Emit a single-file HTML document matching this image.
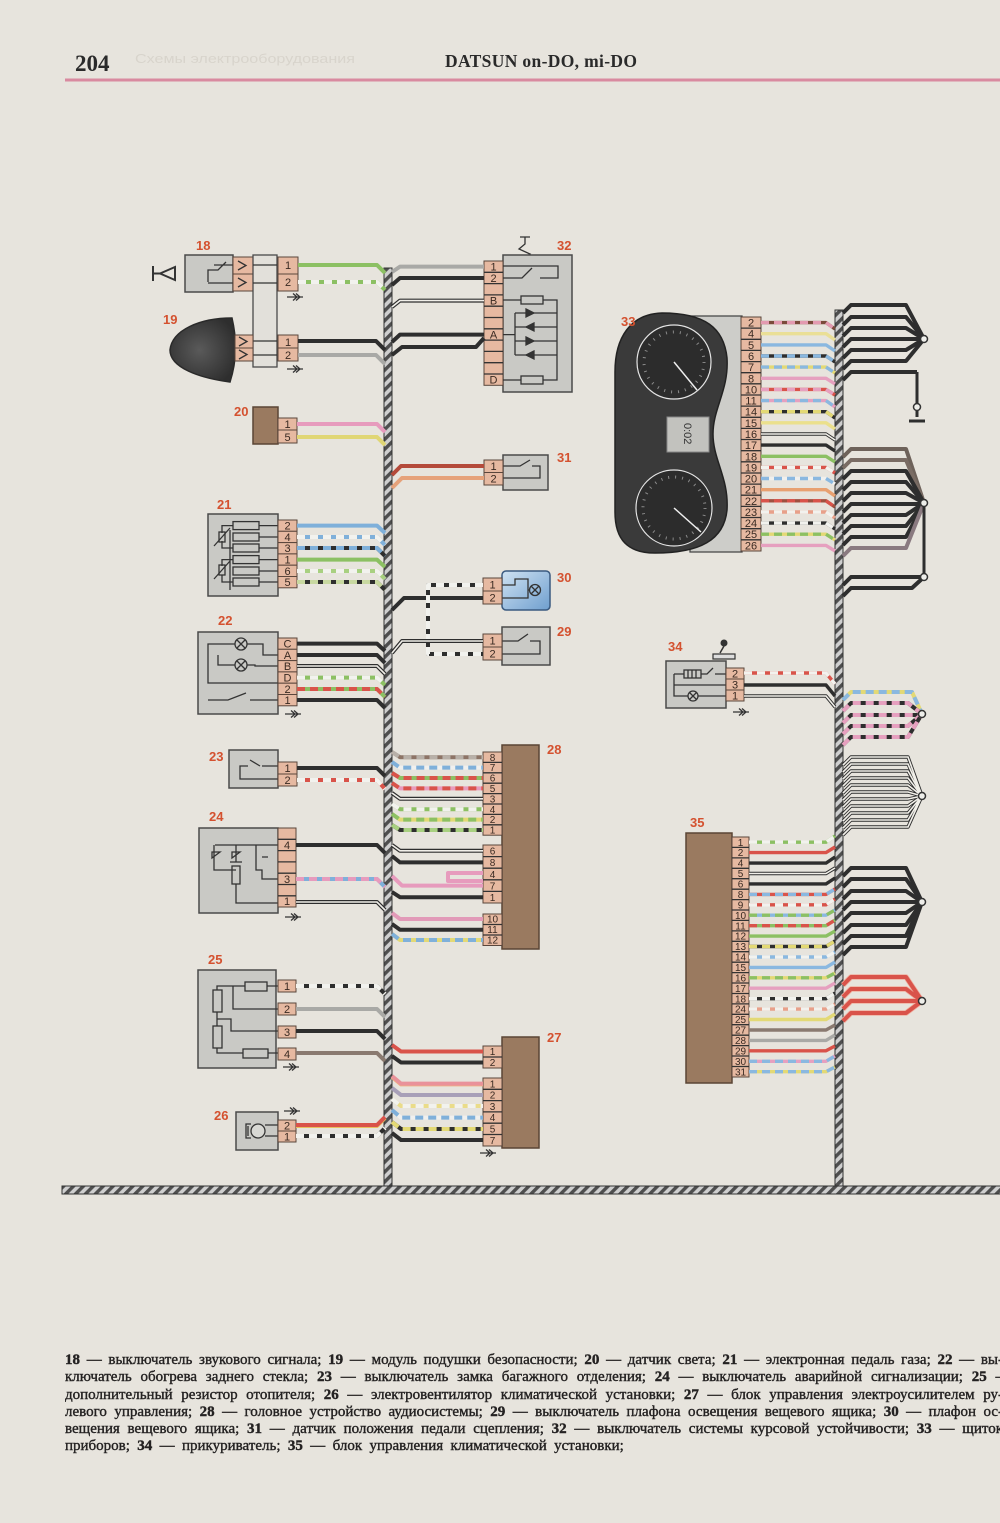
<!DOCTYPE html>
<html><head><meta charset="utf-8">
<style>
html,body{margin:0;padding:0}
body{width:1000px;height:1523px;overflow:hidden;background:#e7e4dd;position:relative}
svg{position:absolute;left:0;top:0}
.cap{position:absolute;left:65px;top:1352px;width:938px;font-family:"Liberation Serif","Noto Serif CJK SC",serif;font-size:15px;color:#242222;-webkit-text-stroke:0.4px #242222}
.cap div{height:17.3px;line-height:17.3px;overflow:hidden;text-align:justify;text-align-last:justify}
.cap div.l{text-align-last:left;word-spacing:3.6px}
.cap b{font-weight:bold}
</style></head><body>
<svg width="1000" height="1523" viewBox="0 0 1000 1523" xmlns="http://www.w3.org/2000/svg">
<defs>
<pattern id="hat" patternUnits="userSpaceOnUse" width="7" height="7" patternTransform="rotate(45)"><rect width="7" height="7" fill="#cfcfcf"/><rect width="3.4" height="7" fill="#4e4e4e"/></pattern>
<g id="ga"><path d="M0 0H16 M6 -3.5L10 0L6 3.5 M9 -3.5L13 0L9 3.5" stroke="#333" stroke-width="1.3" fill="none"/></g>
<radialGradient id="dome" cx="0.45" cy="0.5" r="0.6"><stop offset="0" stop-color="#5a5a5a"/><stop offset="1" stop-color="#2e2e2e"/></radialGradient>
<linearGradient id="blu" x1="0" y1="0" x2="1" y2="1"><stop offset="0" stop-color="#cfe2f2"/><stop offset="1" stop-color="#6f9fcf"/></linearGradient>
</defs>
<style>
.w{fill:none;stroke-width:4;stroke-linejoin:round}
.t{fill:none;stroke-width:3.4;stroke-linejoin:round}
.d{stroke-dasharray:8 5}
.bk{stroke:#2e2e2e}
.in{fill:none;stroke:#f1efe9;stroke-width:1.6}
.lb{font-family:"Liberation Sans",sans-serif;font-weight:bold;font-size:13px;fill:#d4512f}
.pn{font-family:"Liberation Sans",sans-serif;font-size:11px;fill:#3a2a22;text-anchor:middle}
.pn2{font-family:"Liberation Sans",sans-serif;font-size:10px;fill:#3a2a22;text-anchor:middle}
.box{fill:#c9c9c5;stroke:#4a4a4a;stroke-width:1.5}
.pin{fill:#e6b9a1;stroke:#5a463c;stroke-width:1}
.brn{fill:#9a7a60;stroke:#5a4535;stroke-width:1.5}
.ln{fill:none;stroke:#333;stroke-width:1.3}
.nd{fill:#eeeeea;stroke:#333;stroke-width:1.5}
</style>

<!-- header -->
<text x="75" y="71" font-family="Liberation Serif" font-weight="bold" font-size="23" fill="#2a2a2a">204</text>
<text x="135" y="63" font-family="Liberation Sans" font-size="13" fill="#d8d4cc" textLength="220" lengthAdjust="spacingAndGlyphs">Схемы электрооборудования</text>
<text x="445" y="67" font-family="Liberation Serif" font-weight="bold" font-size="17.5" fill="#2a2a2a" textLength="192">DATSUN on-DO, mi-DO</text>
<rect x="65" y="78.5" width="935" height="3" fill="#d98aa0"/>

<!-- buses -->
<rect x="384" y="268" width="8" height="925" fill="url(#hat)" stroke="#333" stroke-width="1"/>
<rect x="835" y="310" width="8" height="883" fill="url(#hat)" stroke="#333" stroke-width="1"/>
<rect x="62" y="1186" width="940" height="8" fill="url(#hat)" stroke="#333" stroke-width="1"/>

<!-- ===== 18 ===== -->
<text class="lb" x="196" y="250">18</text>
<path d="M153 266V281 M153 273.5H160 L175 267V280L160 273.5" fill="none" stroke="#333" stroke-width="2"/>
<rect class="box" x="185" y="255" width="48" height="37"/>
<path class="ln" d="M233 265H222L214 265 M208 282V270H218L226 262 M233 283H208"/>
<rect class="pin" x="233" y="257" width="20" height="17"/><rect class="pin" x="233" y="274" width="20" height="17"/>
<path class="ln" d="M238 261L246 265.5L238 270 M238 278L246 282.5L238 287"/>
<rect x="253" y="255" width="24" height="112" fill="#e2e0da" stroke="#4a4a4a" stroke-width="1.3"/>
<path class="ln" d="M253 265H277 M253 283H277 M253 341H277 M253 355H277"/>
<rect class="pin" x="278" y="257" width="20" height="17"/><rect class="pin" x="278" y="274" width="20" height="17"/>
<text class="pn" x="288" y="269">1</text><text class="pn" x="288" y="286">2</text>
<use href="#ga" x="287" y="297"/>
<!-- ===== 19 ===== -->
<text class="lb" x="163" y="324">19</text>
<path d="M232 318 C200 318 172 330 170 350 C170 368 200 378 230 382 C237 360 237 340 232 318 Z" fill="url(#dome)" stroke="#2a2a2a" stroke-width="1.5"/>
<rect class="pin" x="235" y="335" width="18" height="13"/><rect class="pin" x="235" y="348" width="18" height="13"/>
<path class="ln" d="M239 337L247 341.5L239 346 M239 350L247 354.5L239 359"/>
<rect class="pin" x="278" y="335" width="20" height="13"/><rect class="pin" x="278" y="348" width="20" height="13"/>
<text class="pn" x="288" y="346">1</text><text class="pn" x="288" y="359">2</text>
<use href="#ga" x="287" y="369"/>
<!-- ===== 20 ===== -->
<text class="lb" x="234" y="416">20</text>
<rect class="brn" x="253" y="407" width="25" height="37"/>
<rect class="pin" x="278" y="418" width="19" height="12"/><rect class="pin" x="278" y="430" width="19" height="13"/>
<text class="pn" x="287.5" y="428">1</text><text class="pn" x="287.5" y="441">5</text>

<!-- ===== 21 ===== -->
<text class="lb" x="217" y="509">21</text>
<rect class="box" x="208" y="514" width="70" height="82"/>
<g class="ln">
<rect x="233" y="521.6" width="26" height="8"/><rect x="233" y="533" width="26" height="8"/><rect x="233" y="544" width="26" height="8"/>
<rect x="233" y="555.6" width="26" height="8"/><rect x="233" y="567" width="26" height="8"/><rect x="233" y="578" width="26" height="8"/>
<path d="M259 525.6H278 M259 537H278 M259 548H278 M259 559.6H278 M259 571H278 M259 582H278 M233 525.6H222V533 M233 548H222V541 M233 559.6H222V566 M233 582H222V575 M214 546L230 528 M214 579L230 561 M230 530V590"/>
<rect x="219" y="532" width="6" height="10"/><rect x="219" y="565" width="6" height="10"/>
</g>
<g>
<rect class="pin" x="278" y="520" width="19" height="11.3"/><rect class="pin" x="278" y="531.3" width="19" height="11.3"/><rect class="pin" x="278" y="542.6" width="19" height="11.3"/><rect class="pin" x="278" y="553.9" width="19" height="11.3"/><rect class="pin" x="278" y="565.2" width="19" height="11.3"/><rect class="pin" x="278" y="576.5" width="19" height="11.3"/>
</g>
<text class="pn" x="287.5" y="529.6">2</text><text class="pn" x="287.5" y="541">4</text><text class="pn" x="287.5" y="552">3</text><text class="pn" x="287.5" y="563.6">1</text><text class="pn" x="287.5" y="575">6</text><text class="pn" x="287.5" y="586">5</text>

<!-- ===== 22 ===== -->
<text class="lb" x="218" y="625">22</text>
<rect class="box" x="198" y="632" width="80" height="82"/>
<g class="ln">
<circle cx="241" cy="644" r="6"/><path d="M237 640L245 648M245 640L237 648"/>
<circle cx="241" cy="665" r="6"/><path d="M237 661L245 669M245 661L237 669"/>
<path d="M235 644H208V683H278 M247 644H263V655H278 M235 665H218V655 M247 665H255V666H278 M208 700H228L246 693 M250 700H278"/>
</g>
<rect class="pin" x="278" y="638" width="19" height="11.3"/><rect class="pin" x="278" y="649.3" width="19" height="11.3"/><rect class="pin" x="278" y="660.6" width="19" height="11.3"/><rect class="pin" x="278" y="671.9" width="19" height="11.3"/><rect class="pin" x="278" y="683.2" width="19" height="11.3"/><rect class="pin" x="278" y="694.5" width="19" height="11.3"/>
<text class="pn" x="287.5" y="647.6">C</text><text class="pn" x="287.5" y="659">A</text><text class="pn" x="287.5" y="670">B</text><text class="pn" x="287.5" y="681.6">D</text><text class="pn" x="287.5" y="693">2</text><text class="pn" x="287.5" y="704">1</text>
<use href="#ga" x="285" y="714"/>

<!-- ===== 23 ===== -->
<text class="lb" x="209" y="761">23</text>
<rect class="box" x="229" y="750" width="49" height="38"/>
<path class="ln" d="M278 766H262 M260 766L250 760 M248 766H240V779H278"/>
<rect class="pin" x="278" y="762" width="19" height="12"/><rect class="pin" x="278" y="774" width="19" height="12"/>
<text class="pn" x="287.5" y="772">1</text><text class="pn" x="287.5" y="784">2</text>

<!-- ===== 24 ===== -->
<text class="lb" x="209" y="821">24</text>
<rect class="box" x="199" y="828" width="79" height="85"/>
<g class="ln">
<path d="M215 845H278 M214 845V870H236 M236 845V862 M212 858L220 852L212 852Z M232 858L240 852L232 852Z M230 862H242 M236 884V903H278 M256 845V870H262V879H278 M262 857H268"/>
<rect x="232" y="866" width="8" height="18"/>
</g>
<rect class="pin" x="278" y="828" width="18" height="79"/>
<path class="ln" d="M278 839.3H296 M278 850.6H296 M278 861.9H296 M278 873.2H296 M278 884.5H296 M278 895.8H296"/>
<text class="pn" x="287" y="849">4</text><text class="pn" x="287" y="883">3</text><text class="pn" x="287" y="905">1</text>
<use href="#ga" x="285" y="917"/>

<!-- ===== 25 ===== -->
<text class="lb" x="208" y="964">25</text>
<rect class="box" x="198" y="970" width="78" height="98"/>
<g class="ln">
<rect x="245" y="982" width="22" height="9"/><rect x="213" y="990" width="9" height="22"/><rect x="213" y="1026" width="9" height="22"/><rect x="243" y="1049" width="25" height="9"/>
<path d="M267 986H278 M245 986H217V990 M217 1012V1026 M217 1048V1053H243 M268 1053H278 M233 986V1009H278 M217 1019H231V1031H278"/>
</g>
<rect class="pin" x="278" y="980" width="18" height="12"/><rect class="pin" x="278" y="1003" width="18" height="12"/><rect class="pin" x="278" y="1026" width="18" height="12"/><rect class="pin" x="278" y="1048" width="18" height="12"/>
<text class="pn" x="287" y="990">1</text><text class="pn" x="287" y="1013">2</text><text class="pn" x="287" y="1036">3</text><text class="pn" x="287" y="1058">4</text>
<use href="#ga" x="283" y="1067"/>

<!-- ===== 26 ===== -->
<text class="lb" x="214" y="1120">26</text>
<rect class="box" x="236" y="1112" width="42" height="38"/>
<g class="ln"><circle cx="258" cy="1131" r="7" fill="#d8d8d4"/><path d="M248 1126V1136 M251 1124H246V1138H251 M265 1125H278 M265 1136H278"/></g>
<rect class="pin" x="278" y="1120" width="18" height="11"/><rect class="pin" x="278" y="1131" width="18" height="11"/>
<text class="pn" x="287" y="1129.5">2</text><text class="pn" x="287" y="1140.5">1</text>
<use href="#ga" x="284" y="1111"/>

<!-- ===== left wires ===== -->
<path class="w" stroke="#8cc063" d="M298 265H377L385 273"/>
<path class="w" stroke="#8cc063" d="M298 282H377L385 290"/><path class="w d" stroke="#f2f2ee" d="M298 282H377L385 290"/>
<path class="w bk" d="M298 341H376L385 350"/>
<path class="w" stroke="#a9a9a6" d="M298 355H376L385 364"/>
<path class="w" stroke="#e79bbd" d="M297 424H377L385 432"/>
<path class="w" stroke="#e0d675" d="M297 437H377L385 445"/>
<path class="w" stroke="#7fb0da" d="M297 525.6H377L385 533"/>
<path class="w" stroke="#7fb0da" d="M297 537H377L385 545"/><path class="w d" stroke="#f2f2ee" d="M297 537H377L385 545"/>
<path class="w bk" d="M297 548H377L385 556"/><path class="w d" stroke="#7fb0da" d="M297 548H377L385 556"/>
<path class="w" stroke="#8cc063" d="M297 559.6H377L385 567"/>
<path class="w" stroke="#a8d080" d="M297 571H377L385 579"/><path class="w d" stroke="#f2f2ee" d="M297 571H377L385 579"/>
<path class="w bk" d="M297 582H377L385 590"/><path class="w d" stroke="#c8d8a0" d="M297 582H377L385 590"/>
<path class="w bk" d="M297 643.6H377L385 651"/>
<path class="w bk" d="M297 655H377L385 663"/>
<path class="w bk" d="M297 666H377L385 674"/><path class="in" d="M297 666H377L385 674"/>
<path class="w" stroke="#8cc063" d="M297 677.6H377L385 685"/><path class="w d" stroke="#f2f2ee" d="M297 677.6H377L385 685"/>
<path class="w" stroke="#8cc063" d="M297 689H377L385 697"/><path class="w d" stroke="#d9534a" d="M297 689H377L385 697"/>
<path class="w bk" d="M297 700H377L385 708"/>
<path class="w bk" d="M297 768H377L385 776"/>
<path class="w" stroke="#d9534a" d="M297 780H377L385 789"/><path class="w d" stroke="#f2f2ee" d="M297 780H377L385 789"/>
<path class="w bk" d="M296 845H377L385 853"/>
<path class="w" stroke="#7fb0da" d="M296 879H377L385 887"/><path class="w d" stroke="#e79bbd" d="M296 879H377L385 887"/>
<path class="w bk" d="M296 902H377L385 910"/><path class="in" d="M296 902H377L385 910"/>
<path class="w bk" d="M296 986H377L385 994"/><path class="w d" stroke="#f2f2ee" d="M296 986H377L385 994"/>
<path class="w" stroke="#a9a9a6" d="M296 1009H377L385 1017"/>
<path class="w bk" d="M296 1031H377L385 1039"/>
<path class="w" stroke="#8a7a70" d="M296 1053H377L385 1061"/>
<path class="w" stroke="#e8c060" stroke-width="5.5" fill="none" d="M296 1126H377L385 1118"/><path class="w" stroke="#d9534a" d="M296 1125H377L385 1117"/>
<path class="w bk" d="M296 1136H377L385 1128"/><path class="w d" stroke="#f2f2ee" d="M296 1136H377L385 1128"/>

<!-- ===== 32 ===== -->
<text class="lb" x="557" y="250">32</text>
<path class="ln" d="M520 237H530 M525 237V244L519 249L530 254L523 259V262"/>
<rect class="box" x="503" y="255" width="69" height="137"/>
<rect class="pin" x="484" y="261" width="19" height="124.3"/>
<path class="ln" d="M484 272.3H503 M484 283.6H503 M484 294.9H503 M484 306.2H503 M484 317.5H503 M484 328.8H503 M484 340.1H503 M484 351.4H503 M484 362.7H503 M484 374H503"/>
<text class="pn" x="493.5" y="270.6">1</text><text class="pn" x="493.5" y="282">2</text><text class="pn" x="493.5" y="304.6">B</text><text class="pn" x="493.5" y="338.5">A</text><text class="pn" x="493.5" y="383.7">D</text>
<g class="ln">
<path d="M503 266H558V278H540 M503 278H522 L532 268"/>
<rect x="521" y="296" width="22" height="8"/><rect x="521" y="376" width="22" height="8"/>
<path d="M503 300H521 M543 300H557V380H543 M503 380H521 M503 334.6H515 M515 313V355 M515 313H557 M515 327H557 M515 341H557 M515 355H557"/>
<path d="M526 309L534 313L526 317Z M534 323L526 327L534 331Z M526 337L534 341L526 345Z M534 351L526 355L534 359Z" fill="#333"/>
</g>
<!-- ===== 31 ===== -->
<text class="lb" x="557" y="462">31</text>
<rect class="box" x="503" y="455" width="45" height="35"/>
<path class="ln" d="M503 466H520 L530 460 M532 466H540V478H503"/>
<rect class="pin" x="484" y="460" width="19" height="12.5"/><rect class="pin" x="484" y="472.5" width="19" height="12.5"/>
<text class="pn" x="493.5" y="470">1</text><text class="pn" x="493.5" y="482.5">2</text>
<!-- ===== 30 ===== -->
<text class="lb" x="557" y="582">30</text>
<rect x="502" y="571" width="48" height="39" rx="4" fill="url(#blu)" stroke="#3a5a80" stroke-width="1.5"/>
<g class="ln"><circle cx="535" cy="590" r="5.5"/><path d="M531 586L539 594M539 586L531 594 M502 585H515V579H528V590H529.5 M502 598H528V590"/></g>
<rect class="pin" x="483" y="578" width="19" height="13"/><rect class="pin" x="483" y="591" width="19" height="13"/>
<text class="pn" x="492.5" y="588.5">1</text><text class="pn" x="492.5" y="601.5">2</text>
<!-- ===== 29 ===== -->
<text class="lb" x="557" y="636">29</text>
<rect class="box" x="502" y="627" width="48" height="38"/>
<path class="ln" d="M502 641H518L528 634 M530 641H540V654H502"/>
<rect class="pin" x="483" y="634" width="19" height="13"/><rect class="pin" x="483" y="647" width="19" height="13"/>
<text class="pn" x="492.5" y="644.5">1</text><text class="pn" x="492.5" y="657.5">2</text>
<!-- ===== 28 ===== -->
<text class="lb" x="547" y="754">28</text>
<rect class="brn" x="502" y="745" width="37" height="204"/>
<rect class="pin" x="483" y="752" width="19" height="83.2"/>
<path class="ln" d="M483 762.4H502 M483 772.8H502 M483 783.2H502 M483 793.6H502 M483 804H502 M483 814.4H502 M483 824.8H502"/>
<text class="pn2" x="492.5" y="760.8">8</text><text class="pn2" x="492.5" y="771.2">7</text><text class="pn2" x="492.5" y="781.6">6</text><text class="pn2" x="492.5" y="792">5</text><text class="pn2" x="492.5" y="802.4">3</text><text class="pn2" x="492.5" y="812.8">4</text><text class="pn2" x="492.5" y="823.2">2</text><text class="pn2" x="492.5" y="833.6">1</text>
<rect class="pin" x="483" y="845" width="19" height="58"/>
<path class="ln" d="M483 856.6H502 M483 868.2H502 M483 879.8H502 M483 891.4H502"/>
<text class="pn2" x="492.5" y="854.6">6</text><text class="pn2" x="492.5" y="866.2">8</text><text class="pn2" x="492.5" y="877.8">4</text><text class="pn2" x="492.5" y="889.4">7</text><text class="pn2" x="492.5" y="901">1</text>
<rect class="pin" x="483" y="914" width="19" height="31.5"/>
<path class="ln" d="M483 924.5H502 M483 935H502"/>
<text class="pn2" x="492.5" y="922.6">10</text><text class="pn2" x="492.5" y="933.2">11</text><text class="pn2" x="492.5" y="943.6">12</text>
<!-- ===== 27 ===== -->
<text class="lb" x="547" y="1042">27</text>
<rect class="brn" x="502" y="1037" width="37" height="111"/>
<rect class="pin" x="483" y="1046" width="19" height="22"/>
<path class="ln" d="M483 1057H502"/>
<text class="pn2" x="492.5" y="1055">1</text><text class="pn2" x="492.5" y="1066">2</text>
<rect class="pin" x="483" y="1078" width="19" height="68"/>
<path class="ln" d="M483 1089.3H502 M483 1100.6H502 M483 1111.9H502 M483 1123.2H502 M483 1134.5H502"/>
<text class="pn2" x="492.5" y="1087.3">1</text><text class="pn2" x="492.5" y="1098.6">2</text><text class="pn2" x="492.5" y="1109.9">3</text><text class="pn2" x="492.5" y="1121.2">4</text><text class="pn2" x="492.5" y="1132.5">5</text><text class="pn2" x="492.5" y="1143.8">7</text>
<use href="#ga" x="480" y="1153"/>

<!-- ===== middle wires ===== -->
<path class="w" stroke="#a9a9a6" d="M392 272L400 266.6H484"/>
<path class="w bk" d="M392 285L400 278H484"/>
<path class="w bk" d="M392 307L400 300.6H484"/><path class="in" d="M392 307L400 300.6H484"/>
<path class="w bk" d="M392 342L400 334.6H484"/>
<path class="w bk" d="M392 355L402 347H476L484 338"/>
<path class="w" stroke="#b44a3a" d="M392 475L401 466H484"/>
<path class="w" stroke="#e6a27a" d="M392 488L402 478H484"/>
<path class="w bk" d="M392 610L404 598H483"/>
<path class="w bk" d="M483 585H428V654H483"/><path class="w d" stroke="#f2f2ee" d="M483 585H428V654H483"/>
<path class="w bk" d="M392 653L402 641H483"/><path class="in" d="M392 653L402 641H483"/>
<path class="w" stroke="#8d7466" d="M392 752L400 757.2H483"/><path class="w d" stroke="#b8b0a8" d="M392 752L400 757.2H483"/>
<path class="w" stroke="#f0f0ee" d="M392 762L400 767.6H483"/><path class="w d" stroke="#7fb0da" d="M392 762L400 767.6H483"/>
<path class="w" stroke="#8cc063" d="M392 773L400 778H483"/><path class="w d" stroke="#d9534a" d="M392 773L400 778H483"/>
<path class="w" stroke="#e79bbd" d="M392 783L400 788.4H483"/><path class="w d" stroke="#d9534a" d="M392 783L400 788.4H483"/>
<path class="w bk" d="M392 793L400 798.8H483"/><path class="in" d="M392 793L400 798.8H483"/>
<path class="w" stroke="#8cc063" d="M392 804L400 809.2H483"/><path class="w d" stroke="#f2f2ee" d="M392 804L400 809.2H483"/>
<path class="w" stroke="#e3d975" d="M392 814L400 819.6H483"/><path class="w d" stroke="#8cc063" d="M392 814L400 819.6H483"/>
<path class="w bk" d="M392 825L400 830H483"/><path class="w d" stroke="#a8d080" d="M392 825L400 830H483"/>
<path class="w bk" d="M392 845L400 850.8H483"/><path class="in" d="M392 845L400 850.8H483"/>
<path class="w bk" d="M392 856L400 862.4H483"/>
<path class="w" stroke="#e79bbd" stroke-width="3" fill="none" d="M483 873H448V881H483"/>
<path class="w" stroke="#e79bbd" d="M392 876L402 885.6H483"/>
<path class="w bk" d="M392 892L400 897.2H483"/>
<path class="w" stroke="#e29ab8" d="M392 913L400 919H483"/>
<path class="w bk" d="M392 924L400 929.7H483"/>
<path class="w" stroke="#e3d975" d="M392 934L400 940H483"/><path class="w d" stroke="#7fb0da" d="M392 934L400 940H483"/>
<path class="w" stroke="#d9534a" d="M392 1045L401 1051.5H483"/>
<path class="w bk" d="M392 1056L401 1062.5H483"/>
<path class="w" stroke="#f0b080" stroke-width="5" fill="none" d="M392 1077L401 1084.4H483"/><path class="w" stroke="#e9929a" d="M392 1076L401 1083.6H483"/>
<path class="w" stroke="#a8a0b8" d="M392 1088L401 1095H483"/>
<path class="w" stroke="#eadc8a" d="M392 1099L401 1106H483"/><path class="w d" stroke="#f2f2ee" d="M392 1099L401 1106H483"/>
<path class="w" stroke="#f0f0ee" d="M392 1110L401 1117.6H483"/><path class="w d" stroke="#7fb0da" d="M392 1110L401 1117.6H483"/>
<path class="w bk" d="M392 1122L401 1129H483"/><path class="w d" stroke="#e3d975" d="M392 1122L401 1129H483"/>
<path class="w bk" d="M392 1133L401 1140H483"/>

<!-- ===== 33 ===== -->
<rect x="690" y="316" width="52" height="236" fill="#cdcdc9" stroke="#4a4a4a" stroke-width="1.3"/>
<path d="M662 313 C705 313 724 328 727 358 C729 390 713 408 713 434 C713 460 729 478 727 510 C724 540 700 553 655 553 C628 553 615 540 615 512 L615 372 C615 338 630 314 662 313 Z" fill="#3a3a3a" stroke="#222" stroke-width="1.5"/>
<text class="lb" x="621" y="326">33</text>
<circle cx="674" cy="362" r="37" fill="#2c2c2c" stroke="#e4e4e4" stroke-width="1.2"/>
<circle cx="674" cy="362" r="30" fill="none" stroke="#8a8a8a" stroke-width="3" stroke-dasharray="1 6"/>
<line x1="674" y1="362" x2="697" y2="390" stroke="#eee" stroke-width="1.5"/>
<circle cx="674" cy="508" r="38" fill="#2c2c2c" stroke="#e4e4e4" stroke-width="1.2"/>
<circle cx="674" cy="508" r="31" fill="none" stroke="#8a8a8a" stroke-width="3" stroke-dasharray="1 6"/>
<line x1="674" y1="508" x2="701" y2="532" stroke="#eee" stroke-width="1.5"/>
<rect x="667" y="417" width="42" height="35" fill="#c2c2be" stroke="#888" stroke-width="1"/>
<text x="0" y="0" transform="translate(684,423) rotate(90)" font-family="Liberation Sans" font-size="11" fill="#333">0:02</text>
<rect class="pin" x="741" y="317" width="20" height="234"/>
<path class="ln" d="M741 328.1H761 M741 339.3H761 M741 350.4H761 M741 361.6H761 M741 372.7H761 M741 383.8H761 M741 395H761 M741 406.1H761 M741 417.3H761 M741 428.4H761 M741 439.5H761 M741 450.7H761 M741 461.8H761 M741 473H761 M741 484.1H761 M741 495.2H761 M741 506.4H761 M741 517.5H761 M741 528.7H761 M741 539.8H761"/>
<g class="pn">
<text x="751" y="326.6">2</text><text x="751" y="337.7">4</text><text x="751" y="348.9">5</text><text x="751" y="360">6</text><text x="751" y="371.1">7</text><text x="751" y="382.3">8</text><text x="751" y="393.4">10</text><text x="751" y="404.6">11</text><text x="751" y="415.7">14</text><text x="751" y="426.8">15</text><text x="751" y="438">16</text><text x="751" y="449.1">17</text><text x="751" y="460.3">18</text><text x="751" y="471.4">19</text><text x="751" y="482.5">20</text><text x="751" y="493.7">21</text><text x="751" y="504.8">22</text><text x="751" y="516">23</text><text x="751" y="527.1">24</text><text x="751" y="538.2">25</text><text x="751" y="549.4">26</text>
</g>
<!-- 33 wires -->
<path class="t" stroke="#7a4a3a" d="M761 322.6H826L835 329"/><path class="t d" stroke="#e39ab0" d="M761 322.6H826L835 329"/>
<path class="t" stroke="#eadf96" d="M761 333.7H826L835 340"/>
<path class="t" stroke="#8ab8e0" d="M761 344.9H826L835 351"/>
<path class="t bk" d="M761 356H826L835 362"/><path class="t d" stroke="#8ab8e0" d="M761 356H826L835 362"/>
<path class="t" stroke="#e3d975" d="M761 367.1H826L835 373"/><path class="t d" stroke="#8ab8e0" d="M761 367.1H826L835 373"/>
<path class="t" stroke="#e6a0bf" d="M761 378.3H826L835 384"/>
<path class="t" stroke="#d9534a" d="M761 389.4H826L835 395"/><path class="t d" stroke="#e6a0bf" d="M761 389.4H826L835 395"/>
<path class="t" stroke="#e6a0bf" d="M761 400.6H826L835 407"/><path class="t d" stroke="#8ab8e0" d="M761 400.6H826L835 407"/>
<path class="t bk" d="M761 411.7H826L835 418"/><path class="t d" stroke="#e3d975" d="M761 411.7H826L835 418"/>
<path class="t" stroke="#ebe08c" d="M761 422.8H826L835 429"/>
<path class="t bk" d="M761 434H826L835 440"/><path class="in" d="M761 434H826L835 440"/>
<path class="t bk" d="M761 445.1H826L835 451"/>
<path class="t" stroke="#8cc063" d="M761 456.3H826L835 462"/>
<path class="t" stroke="#d9534a" d="M761 467.4H826L835 473"/><path class="t d" stroke="#f2f2ee" d="M761 467.4H826L835 473"/>
<path class="t" stroke="#f0f0ee" d="M761 478.5H826L835 484"/><path class="t d" stroke="#8ab8e0" d="M761 478.5H826L835 484"/>
<path class="t" stroke="#e8a070" d="M761 489.7H826L835 496"/>
<path class="t" stroke="#a0503f" d="M761 500.8H826L835 507"/><path class="t d" stroke="#d9534a" d="M761 500.8H826L835 507"/>
<path class="t" stroke="#e8a08a" d="M761 512H826L835 518"/><path class="t d" stroke="#f2f2ee" d="M761 512H826L835 518"/>
<path class="t bk" d="M761 523.1H826L835 529"/><path class="t d" stroke="#f2f2ee" d="M761 523.1H826L835 529"/>
<path class="t" stroke="#e3d975" d="M761 534.2H826L835 540"/><path class="t d" stroke="#8cc063" d="M761 534.2H826L835 540"/>
<path class="t" stroke="#e6a0bf" d="M761 545.4H826L835 551"/>

<!-- ===== 34 ===== -->
<text class="lb" x="668" y="651">34</text>
<circle cx="724" cy="643" r="3.5" fill="#333"/><path d="M724 646L720 653" stroke="#333" stroke-width="1.5"/>
<rect x="713" y="654" width="22" height="5" fill="#ddd" stroke="#333" stroke-width="1.2"/>
<rect class="box" x="666" y="661" width="60" height="47"/>
<g class="ln"><rect x="684" y="670" width="17" height="8"/><path d="M688 670V678M692 670V678M696 670V678 M674 674H684 M701 674H707L713 668 M715 674H726 M674 674V696H688 M698 696H726 M674 685H726"/><circle cx="693" cy="696" r="5"/><path d="M689.5 692.5L696.5 699.5M696.5 692.5L689.5 699.5"/></g>
<rect class="pin" x="726" y="668" width="18" height="11"/><rect class="pin" x="726" y="679" width="18" height="11"/><rect class="pin" x="726" y="690" width="18" height="11"/>
<text class="pn" x="735" y="677.5">2</text><text class="pn" x="735" y="688.5">3</text><text class="pn" x="735" y="699.5">1</text>
<use href="#ga" x="733" y="712"/>
<path class="t" stroke="#d9534a" d="M744 673H826L835 684"/><path class="t d" stroke="#f2f2ee" d="M744 673H826L835 684"/>
<path class="t bk" d="M744 685H826L835 696"/>
<path class="t bk" d="M744 696H826L835 707"/><path class="in" d="M744 696H826L835 707"/>

<!-- ===== 35 ===== -->
<text class="lb" x="690" y="827">35</text>
<rect class="brn" x="686" y="833" width="46" height="250"/>
<rect class="pin" x="732" y="837" width="17" height="240"/>
<path class="ln" d="M732 847.4H749 M732 857.9H749 M732 868.3H749 M732 878.7H749 M732 889.2H749 M732 899.6H749 M732 910H749 M732 920.4H749 M732 930.9H749 M732 941.3H749 M732 951.7H749 M732 962.2H749 M732 972.6H749 M732 983H749 M732 993.5H749 M732 1003.9H749 M732 1014.3H749 M732 1024.7H749 M732 1035.2H749 M732 1045.6H749 M732 1056H749 M732 1066.5H749"/>
<g class="pn2">
<text x="740.5" y="845.8">1</text><text x="740.5" y="856.2">2</text><text x="740.5" y="866.7">4</text><text x="740.5" y="877.1">5</text><text x="740.5" y="887.5">6</text><text x="740.5" y="898">8</text><text x="740.5" y="908.4">9</text><text x="740.5" y="918.8">10</text><text x="740.5" y="929.3">11</text><text x="740.5" y="939.7">12</text><text x="740.5" y="950.1">13</text><text x="740.5" y="960.6">14</text><text x="740.5" y="971">15</text><text x="740.5" y="981.4">16</text><text x="740.5" y="991.8">17</text><text x="740.5" y="1002.3">18</text><text x="740.5" y="1012.7">24</text><text x="740.5" y="1023.1">25</text><text x="740.5" y="1033.6">27</text><text x="740.5" y="1044">28</text><text x="740.5" y="1054.4">29</text><text x="740.5" y="1064.9">30</text><text x="740.5" y="1075.3">31</text>
</g>
<!-- 35 wires -->
<path class="t" stroke="#8cc063" d="M749 842.2H826L835 836"/><path class="t d" stroke="#f2f2ee" d="M749 842.2H826L835 836"/>
<path class="t" stroke="#d9534a" d="M749 852.6H826L835 847"/>
<path class="t bk" d="M749 863.1H826L835 857"/>
<path class="t bk" d="M749 873.5H826L835 868"/><path class="in" d="M749 873.5H826L835 868"/>
<path class="t bk" d="M749 883.9H826L835 878"/>
<path class="t" stroke="#d9534a" d="M749 894.4H826L835 889"/><path class="t d" stroke="#8ab8e0" d="M749 894.4H826L835 889"/>
<path class="t" stroke="#d9534a" d="M749 904.8H826L835 899"/><path class="t d" stroke="#f2f2ee" d="M749 904.8H826L835 899"/>
<path class="t" stroke="#8ab8e0" d="M749 915.2H826L835 910"/><path class="t d" stroke="#8cc063" d="M749 915.2H826L835 910"/>
<path class="t" stroke="#8cc063" d="M749 925.7H826L835 920"/><path class="t d" stroke="#d9534a" d="M749 925.7H826L835 920"/>
<path class="t" stroke="#8cc063" d="M749 936.1H826L835 931"/>
<path class="t bk" d="M749 946.5H826L835 941"/><path class="t d" stroke="#e3d975" d="M749 946.5H826L835 941"/>
<path class="t" stroke="#8ab8e0" d="M749 957H826L835 952"/><path class="t d" stroke="#f2f2ee" d="M749 957H826L835 952"/>
<path class="t" stroke="#8ab8e0" d="M749 967.4H826L835 962"/>
<path class="t" stroke="#e3d975" d="M749 977.8H826L835 973"/><path class="t d" stroke="#8cc063" d="M749 977.8H826L835 973"/>
<path class="t" stroke="#e6a0bf" d="M749 988.2H826L835 983"/>
<path class="t bk" d="M749 998.7H826L835 993"/><path class="t d" stroke="#f2f2ee" d="M749 998.7H826L835 993"/>
<path class="t" stroke="#e8a08a" d="M749 1009.1H826L835 1004"/><path class="t d" stroke="#f2f2ee" d="M749 1009.1H826L835 1004"/>
<path class="t" stroke="#e3d975" d="M749 1019.5H826L835 1014"/>
<path class="t" stroke="#8a7a70" d="M749 1030H826L835 1025"/>
<path class="t" stroke="#a9a9a6" d="M749 1040.4H826L835 1035"/>
<path class="t" stroke="#d9534a" d="M749 1050.8H826L835 1046"/>
<path class="t" stroke="#e6a0bf" d="M749 1061.3H826L835 1056"/><path class="t d" stroke="#8ab8e0" d="M749 1061.3H826L835 1056"/>
<path class="t" stroke="#e3d975" d="M749 1071.7H826L835 1067"/><path class="t d" stroke="#8ab8e0" d="M749 1071.7H826L835 1067"/>

<!-- ===== right fans ===== -->
<g class="w bk">
<path d="M843 313L851 305H906L924 339"/><path d="M843 325L851 317H906L924 339"/><path d="M843 336L851 328H906L924 339"/><path d="M843 347L851 339H924"/><path d="M843 358L851 350H906L924 339"/><path d="M843 369L851 361H906L924 339"/><path d="M843 380L851 372H917"/>
<path d="M917 372V417" stroke-width="3"/><path d="M909 421H925" stroke-width="3"/>
</g>
<circle class="nd" cx="924" cy="339" r="3.5"/><circle class="nd" cx="917" cy="407" r="3.5"/>
<g class="w">
<path stroke="#6e625a" d="M843 457L851 449H906L924 503"/><path stroke="#7a6c64" d="M843 468L851 460H906L924 503"/>
<path class="bk" d="M843 479L851 471H906L924 503"/><path class="bk" d="M843 490L851 482H906L924 503"/><path class="bk" d="M843 501L851 493H906L924 503"/><path class="bk" d="M843 512L851 504H924"/><path class="bk" d="M843 523L851 515H906L924 503"/><path class="bk" d="M843 534L851 526H906L924 503"/><path class="bk" d="M843 545L851 537H906L924 503"/><path stroke="#8a7a80" d="M843 556L851 548H906L924 503"/>
<path class="bk" d="M924 503V577" stroke-width="3"/><path class="bk" d="M843 585L851 577H924"/><path class="bk" d="M843 596L851 588H912L924 577"/>
</g>
<circle class="nd" cx="924" cy="503" r="3.5"/><circle class="nd" cx="924" cy="577" r="3.5"/>
<g class="w">
<path stroke="#e3d975" d="M843 700L851 692H912L922 714"/><path class="d" stroke="#8ab8e0" d="M843 700L851 692H912L922 714"/>
<path class="bk" d="M843 711L851 703H908L922 714"/><path class="d" stroke="#e6a0bf" d="M843 711L851 703H908L922 714"/>
<path class="bk" d="M843 723L851 715H922"/><path class="d" stroke="#e6a0bf" d="M843 723L851 715H922"/>
<path class="bk" d="M843 734L851 726H908L922 714"/><path class="d" stroke="#e6a0bf" d="M843 734L851 726H908L922 714"/>
<path class="bk" d="M843 745L851 737H908L922 714"/><path class="d" stroke="#e6a0bf" d="M843 745L851 737H908L922 714"/>
</g>
<circle class="nd" cx="922" cy="714" r="3.5"/>
<g>
<path class="t bk" d="M843 765L851 757H908L922 796 M843 772L851 764H908L922 796 M843 779L851 771H908L922 796 M843 786L851 778H908L922 796 M843 793L851 785H908L922 796 M843 800L851 792H908L922 796 M843 807L851 799H908L922 796 M843 814L851 806H908L922 796 M843 821L851 813H908L922 796 M843 828L851 820H908L922 796 M843 835L851 827H908L922 796"/>
<path class="in" stroke-width="1.5" d="M843 765L851 757H908L922 796 M843 772L851 764H908L922 796 M843 779L851 771H908L922 796 M843 786L851 778H908L922 796 M843 793L851 785H908L922 796 M843 800L851 792H908L922 796 M843 807L851 799H908L922 796 M843 814L851 806H908L922 796 M843 821L851 813H908L922 796 M843 828L851 820H908L922 796 M843 835L851 827H908L922 796"/>
</g>
<circle class="nd" cx="922" cy="796" r="3.5"/>
<g class="w bk">
<path d="M843 876L851 868H906L922 902"/><path d="M843 887L851 879H906L922 902"/><path d="M843 899L851 891H906L922 902"/><path d="M843 910L851 902H922"/><path d="M843 921L851 913H906L922 902"/><path d="M843 933L851 925H906L922 902"/><path d="M843 944L851 936H906L922 902"/><path d="M843 955L851 947H906L922 902"/>
</g>
<circle class="nd" cx="922" cy="902" r="3.5"/>
<g class="w">
<path stroke="#f0b0a0" stroke-width="5.5" d="M843 985L851 977H906L922 1001 M843 997L851 989H906L922 1001 M843 1009L851 1001H922 M843 1021L851 1013H906L922 1001"/>
<path stroke="#d9534a" d="M843 985L851 977H906L922 1001 M843 997L851 989H906L922 1001 M843 1009L851 1001H922 M843 1021L851 1013H906L922 1001"/>
</g>
<circle class="nd" cx="922" cy="1001" r="3.5"/>
</svg>

<div class="cap">
<div><b>18</b> — выключатель звукового сигнала; <b>19</b> — модуль подушки безопасности; <b>20</b> — датчик света; <b>21</b> — электронная педаль газа; <b>22</b> — вы-</div>
<div>ключатель обогрева заднего стекла; <b>23</b> — выключатель замка багажного отделения; <b>24</b> — выключатель аварийной сигнализации; <b>25</b> –</div>
<div>дополнительный резистор отопителя; <b>26</b> — электровентилятор климатической установки; <b>27</b> — блок управления электроусилителем ру-</div>
<div>левого управления; <b>28</b> — головное устройство аудиосистемы; <b>29</b> — выключатель плафона освещения вещевого ящика; <b>30</b> — плафон ос-</div>
<div>вещения вещевого ящика; <b>31</b> — датчик положения педали сцепления; <b>32</b> — выключатель системы курсовой устойчивости; <b>33</b> — щиток</div>
<div class="l">приборов; <b>34</b> — прикуриватель; <b>35</b> — блок управления климатической установки;</div>
</div>
</body></html>
